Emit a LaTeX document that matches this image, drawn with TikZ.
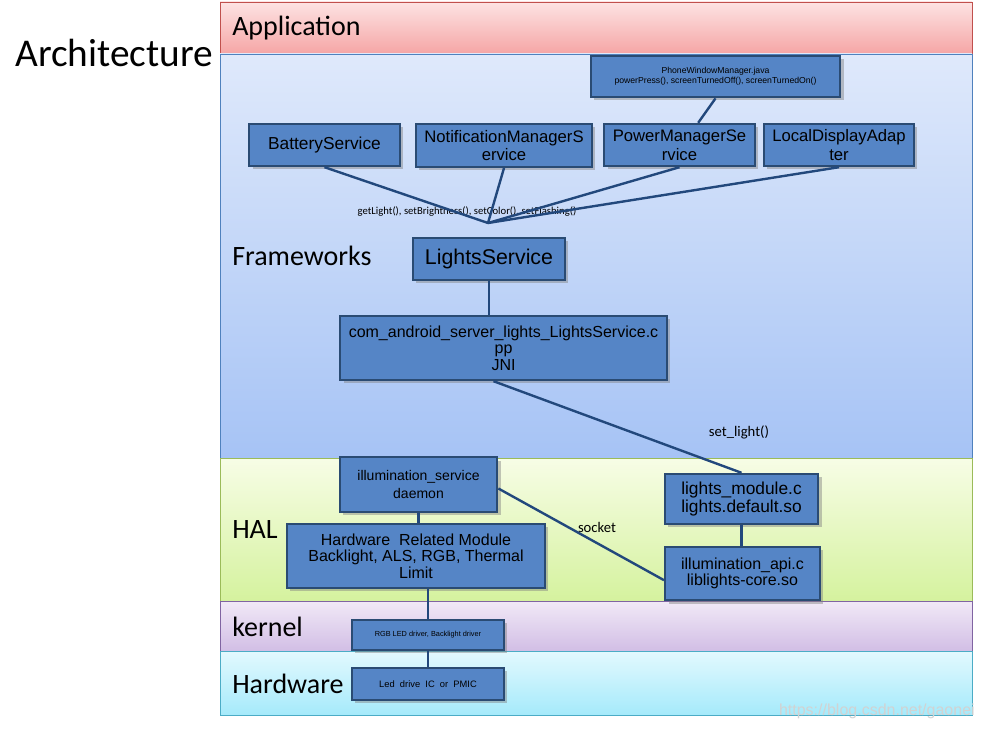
\documentclass[tikz,border=0pt]{standalone}
\usepackage{fontspec}
\setmainfont{Liberation Sans}
\newfontfamily\labelfont{Carlito}
\usetikzlibrary{shadows}

\definecolor{boxblue}{HTML}{5585C6}
\definecolor{boxedge}{HTML}{2A4B73}
\definecolor{linkblue}{HTML}{22487C}
\definecolor{apptop}{HTML}{FDE3E3}
\definecolor{appbot}{HTML}{F5A5A5}
\definecolor{appedge}{HTML}{C0504D}
\definecolor{fwtop}{HTML}{DFE9FB}
\definecolor{fwbot}{HTML}{A6C3F5}
\definecolor{fwedge}{HTML}{4F81BD}
\definecolor{haltop}{HTML}{F7FDE6}
\definecolor{halbot}{HTML}{D5F29E}
\definecolor{haledge}{HTML}{9BBB59}
\definecolor{kntop}{HTML}{F1E9F7}
\definecolor{knbot}{HTML}{D2BEE5}
\definecolor{knedge}{HTML}{8064A2}
\definecolor{hwtop}{HTML}{E3F9FE}
\definecolor{hwbot}{HTML}{A5EAFB}
\definecolor{hwedge}{HTML}{4BACC6}

\begin{document}
\begin{tikzpicture}[x=0.75pt,y=-0.75pt]
            \tikzstyle{layer}=[line width=0.7pt]
            \tikzstyle{layername}=[anchor=west,inner sep=0pt,font=\labelfont\fontsize{21}{24}\selectfont]
            \tikzstyle{box}=[draw=boxedge,line width=1.8pt,fill=boxblue,inner sep=0pt,align=center,
                drop shadow={opacity=0.45,shadow xshift=2.5pt,shadow yshift=-2.5pt}]
            \tikzstyle{link}=[draw=linkblue,line width=1.8pt]
            \tikzstyle{note}=[inner sep=0pt,font=\labelfont\fontsize{11}{13}\selectfont]

            \useasboundingbox (0,0) rectangle (985,731);

            % layers
            \draw[layer,draw=appedge,top color=apptop,bottom color=appbot] (220,2) rectangle (972,54);
            \draw[layer,draw=fwedge,top color=fwtop,bottom color=fwbot] (220,54) rectangle (972,458);
            \draw[layer,draw=haledge,top color=haltop,bottom color=halbot] (220,458) rectangle (972,601);
            \draw[layer,draw=knedge,top color=kntop,bottom color=knbot] (220,601) rectangle (972,651);
            \draw[layer,draw=hwedge,top color=hwtop,bottom color=hwbot] (220,651) rectangle (972,715);

            \node[anchor=west,inner sep=0pt,font=\labelfont\fontsize{29.5}{34}\selectfont] (arch) at (15,53) {Architecture};
            \node[layername] (app) at (232,28) {Application};
            \node[layername] (fw) at (232,256) {Frameworks};
            \node[layername] (hal) at (232,530) {HAL};
            \node[layername] (kern) at (232,627) {kernel};
            \node[layername] (hw) at (232,684) {Hardware};

            % frameworks
            \node[box,minimum width=187pt,minimum height=31pt,font=\fontsize{6.5}{7.5}\selectfont] (pwm) at (715.5,76.5)
                {PhoneWindowManager.java\\powerPress(), screenTurnedOff(), screenTurnedOn()};
            \node[box,minimum width=113pt,minimum height=31.5pt,font=\fontsize{13}{14}\selectfont] (battery) at (324.5,145) {BatteryService};
            \node[box,minimum width=132pt,minimum height=32pt,font=\fontsize{12.5}{14}\selectfont] (notif) at (504,145.5) {NotificationManagerS\\ervice};
            \node[box,minimum width=113pt,minimum height=31.5pt,font=\fontsize{12.5}{14}\selectfont] (power) at (679.5,145) {PowerManagerSe\\rvice};
            \node[box,minimum width=112.5pt,minimum height=31.5pt,font=\fontsize{12.5}{14}\selectfont] (local) at (839,145) {LocalDisplayAdap\\ter};
            \coordinate (junc) at (488,223);
            \node[note,font=\labelfont\fontsize{8}{9}\selectfont] (calls) at (467,212) {getLight(), setBrightness(), setColor(), setFlashing()};
            \node[box,minimum width=114pt,minimum height=31.5pt,font=\fontsize{16}{18}\selectfont] (lights) at (489,259) {LightsService};
            \node[box,minimum width=245pt,minimum height=48pt,font=\fontsize{12}{12.5}\selectfont] (jni) at (503.5,348)
                {com\_android\_server\_lights\_LightsService.c\\pp\\JNI};
            \node[note] (setlight) at (739,432) {set\_light()};

            % hal
            \node[box,minimum width=118pt,minimum height=41pt,font=\fontsize{10.5}{13}\selectfont] (isvc) at (418.5,484.5) {illumination\_service\\daemon};
            \node[box,minimum width=193.5pt,minimum height=48pt,font=\fontsize{12}{12.5}\selectfont] (hwmod) at (416,556)
                {Hardware\ \ Related Module\\Backlight, ALS, RGB, Thermal\\Limit};
            \node[box,minimum width=115pt,minimum height=37.5pt,font=\fontsize{13}{14}\selectfont] (lmod) at (741.5,499) {lights\_module.c\\lights.default.so};
            \node[box,minimum width=116pt,minimum height=40pt,font=\fontsize{12}{12.5}\selectfont] (iapi) at (742.5,573.5) {illumination\_api.c\\liblights-core.so};
            \node[note] (sock) at (597,527) {socket};

            % kernel and hardware
            \node[box,minimum width=114pt,minimum height=22.5pt,font=\fontsize{5.5}{6.5}\selectfont] (rgbdrv) at (428,635) {RGB LED driver, Backlight driver};
            \node[box,minimum width=114pt,minimum height=24pt,font=\fontsize{7}{8}\selectfont] (ledic) at (428,684) {Led\ \ drive\ \ IC\ \ or\ \ PMIC};

            % connections
            \draw[link] (pwm.south) -- ([xshift=14pt]power.north);
            \draw[link] (battery.south) -- (junc);
            \draw[link] (notif.south) -- (junc);
            \draw[link] (power.south) -- (junc);
            \draw[link] (local.south) -- (junc);
            \draw[link] (lights.south) -- (lights.south |- jni.north);
            \draw[link] ([xshift=-7.5pt]jni.south) -- (lmod.north);
            \draw[link] (lmod.south) -- (lmod.south |- iapi.north);
            \draw[link] ([yshift=-3pt]isvc.east) -- ([yshift=-5pt]iapi.west);
            \draw[link] (isvc.south) -- (isvc.south |- hwmod.north);
            \draw[link] (rgbdrv.north |- hwmod.south) -- (rgbdrv.north);
            \draw[link] (rgbdrv.south) -- (ledic.north);

            \node[anchor=east,inner sep=0pt,text=gray!35,font=\fontsize{12}{14}\selectfont] (mark) at (975,711) {https://blog.csdn.net/gaonei};
\end{tikzpicture}
\end{document}
